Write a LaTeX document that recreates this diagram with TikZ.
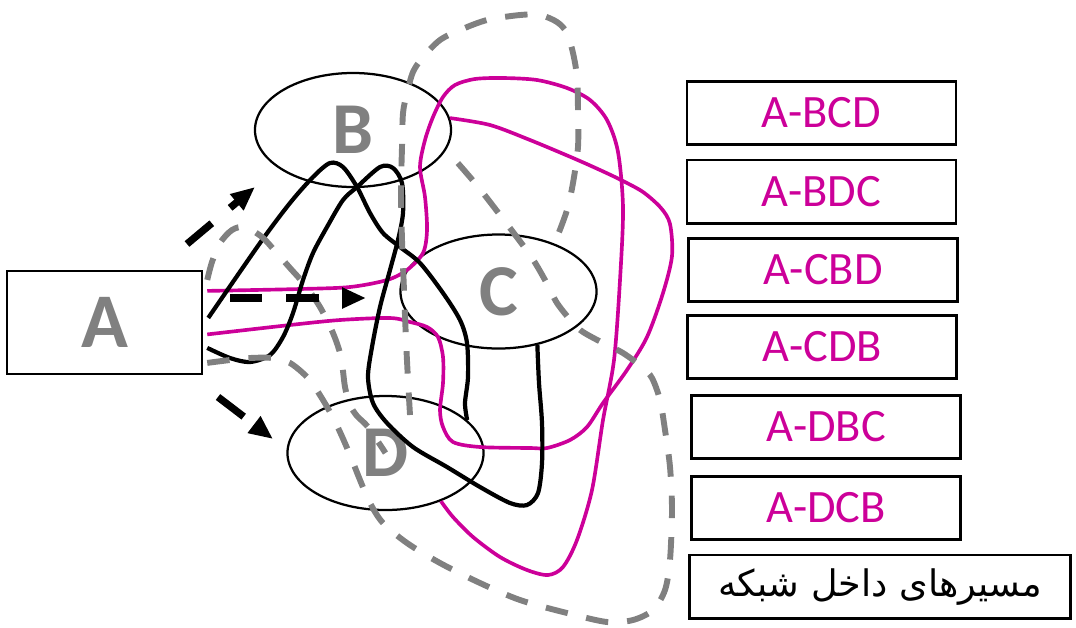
\documentclass[tikz,border=0pt]{standalone}
\usepackage{fontspec}
\setmainfont{Carlito}
\newfontfamily\farsifont[Script=Arabic]{DejaVu Sans}
\TeXXeTstate=1
\usepackage{tikz}
\usetikzlibrary{arrows.meta,shapes.geometric,positioning}
\definecolor{routepink}{RGB}{204,0,153}
\definecolor{nodegray}{RGB}{128,128,128}

\begin{document}
\begin{tikzpicture}[x=0.025cm, y=-0.025cm,
  site/.style={draw, ellipse, line width=1.6pt, minimum width=4.9cm,
    minimum height=2.85cm, inner sep=0pt, text=nodegray,
    font=\fontsize{52}{52}\selectfont\bfseries},
  routebox/.style={draw, line width=2pt, minimum width=6.72cm,
    minimum height=1.58cm, inner sep=0pt, text=routepink,
    font=\fontsize{33}{33}\selectfont},
  pinkroute/.style={routepink, line width=2.6pt},
  blackroute/.style={black, line width=3pt},
  grayroute/.style={nodegray, line width=4.2pt, dash pattern=on 16pt off 13.5pt},
  hop/.style={line width=5.2pt, dash pattern=on 23pt off 17pt,
    -{Triangle[length=17pt,width=14pt]}}]
  \useasboundingbox (0,0) rectangle (1076,627);

  % source and the three routers
  \node[draw, line width=1.6pt, minimum width=4.875cm, minimum height=2.575cm,
    inner sep=0pt, text=nodegray, font=\fontsize{55}{55}\selectfont\bfseries]
    (A) at (104.6,322.4) {A};
  \node[site] (B) at (353,130) {B};
  \node[site] (C) at (498.5,291.5) {C};
  \node[site] (D) at (385.5,453) {D};

  % pink routes
  \draw[pinkroute] plot[smooth] coordinates {([shift={(4,-31.5)}]A.east)
    (300,289) (350,287) (387,280) (407,270) (423,253) (427,230) (425,197)
    (420,167) (425,140) (433,117) (443,97) (455,85) (475,79) (503,78)
    (537,80) (567,88) (590,100) (607,120) (618,152) (623,208) (620,280)
    (614,360) (603,420) (592,490) (577,540) (563,567) (548,575) (527,570)
    (500,557) (473,537) (453,517) (D.-41)};
  \draw[pinkroute] plot[smooth] coordinates {([shift={(4,12)}]A.east)
    (290,325) (340,320) (390,318) (410,322) (427,327) (438,337) (443,357)
    (443,383) (440,410) (443,427) (453,442) (480,447) (530,448) (547,448)
    (570,440) (587,427) (603,403) (627,370) (647,337) (663,293) (672,256)
    (670,224) (661,208) (643,192) (621,180) (600,170) (573,158) (530,140)
    (490,125) (B.7)};

  % black routes
  \draw[blackroute] plot[smooth] coordinates {([shift={(5,-4.5)}]A.east)
    (260,243) (290,203) (313,177) (330,163) (343,167) (357,187) (370,213)
    (383,233) (400,247) (420,263) (443,293) (460,320) (467,343) (468,377)
    (465,403) (D.22)};
  \draw[blackroute] plot[smooth] coordinates {([shift={(4,25.5)}]A.east)
    (230,358) (250,362) (270,355) (283,337) (293,313) (303,280) (313,253)
    (327,227) (343,200) (357,187) (380,167) (393,168) (402,183) (403,213)
    (398,240) (390,270) (380,307) (372,347) (368,377) (373,403) (387,423)
    (413,447) (447,467) (480,487) (510,503) (527,505) (538,493) (542,463)
    (542,423) (539,383) (C.-54)};

  % gray dashed routes
  \draw[grayroute] plot[smooth] coordinates {(410,415) (408,380) (406,340)
    (404,290) (402,240) (401,190) (402,147) (403,113) (407,93) (413,72)
    (423,57) (440,40) (460,30) (487,20) (520,15) (540,15) (557,22) (567,33)
    (573,53) (577,77) (578,110) (578,147) (573,183) (567,210) (557,237)
    (C.42)};
  \draw[grayroute] plot[smooth] coordinates {([shift={(4,-42.5)}]A.east)
    (212,262) (220,243) (232,230) (245,227) (262,237) (275,251) (290,268)
    (305,285) (320,307) (333,333) (341,357) (345,387) (350,405) (357,416)
    (368,427) (D.center)};
  \draw[grayroute] plot[smooth] coordinates {([shift={(4,40.5)}]A.east)
    (230,360) (250,358) (272,358) (290,363) (307,377) (318,392) (330,412)
    (340,432) (350,455) (360,480) (370,503) (383,523) (407,543) (440,563)
    (480,583) (520,600) (567,613) (607,622) (633,620) (653,610) (665,590)
    (670,560) (672,510) (670,467) (665,430) (660,400) (652,378) (642,367)
    (623,353) (603,343) (583,332) (573,323) (557,303) (545,280) (530,255)
    (500,215) (475,183) (B.-12)};

  % first hops out of A
  \coordinate (hB0) at (187,244);
  \coordinate (hB1) at (255,187);
  \coordinate (hC0) at (230,298);
  \coordinate (hC1) at (366,298);
  \coordinate (hD0) at (218,397);
  \coordinate (hD1) at (273,439);
  \draw[hop] (hB0) -- (hB1);
  \draw[hop] (hC0) -- (hC1);
  \draw[hop] (hD0) -- (hD1);

  % route list
  \node[routebox] (bcd) at (821.5,113) {A-BCD};
  \node[routebox] (bdc) at (821.5,191.6) {A-BDC};
  \node[routebox] (cbd) at (823,269.7) {A-CBD};
  \node[routebox] (cdb) at (822.3,347) {A-CDB};
  \node[routebox] (dbc) at (826.3,427) {A-DBC};
  \node[routebox] (dcb) at (826.3,507.7) {A-DCB};
  \node[draw, line width=2pt, minimum width=9.52cm, minimum height=1.58cm,
    inner sep=0pt, font=\fontsize{26}{26}\farsifont] (title) at (880,586.6)
    {\beginR مسیرهای داخل شبکه\endR};
\end{tikzpicture}
\end{document}
